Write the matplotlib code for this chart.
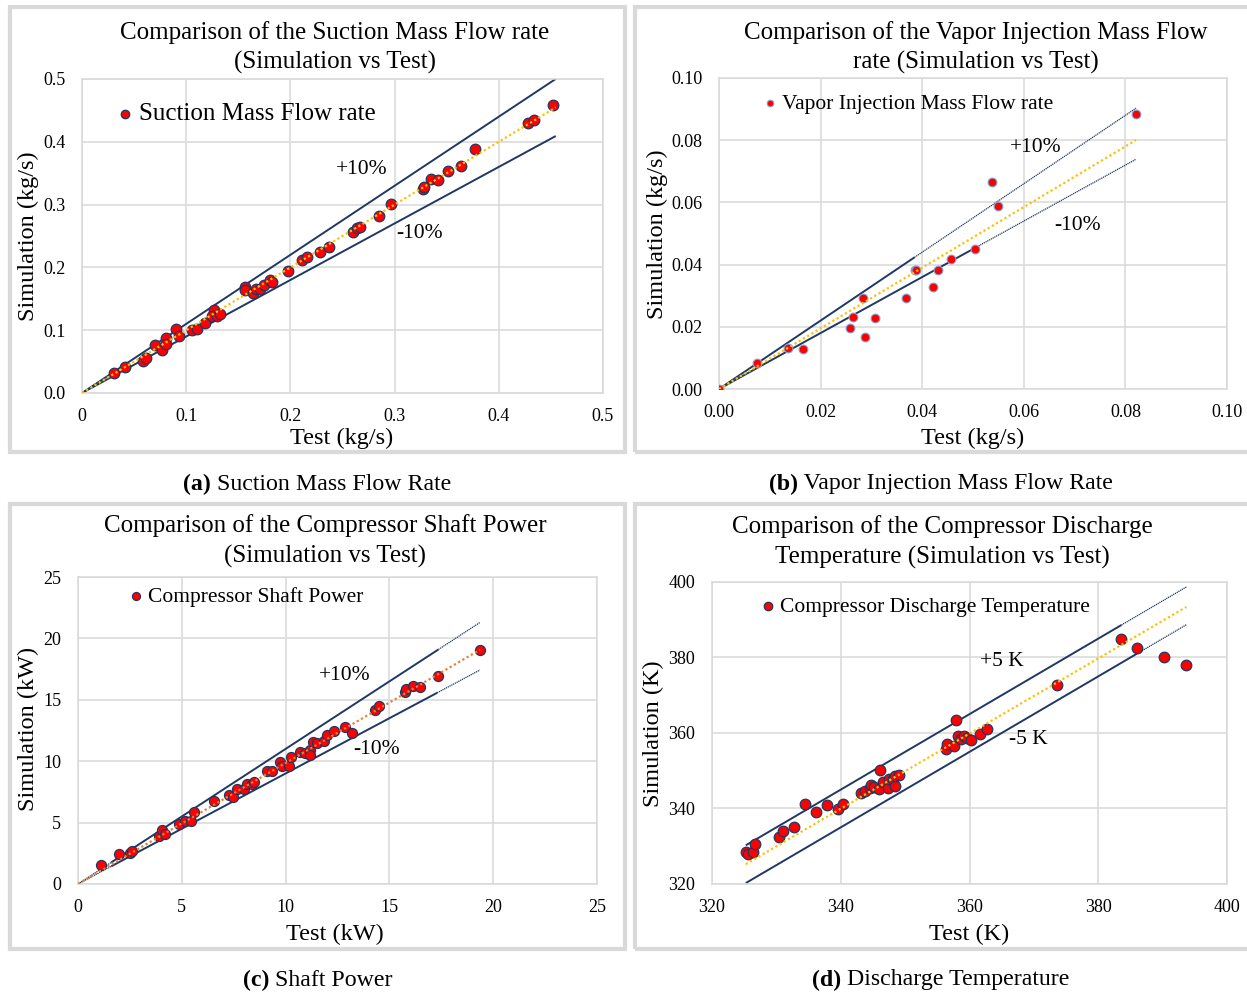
import numpy as np
import matplotlib
matplotlib.use("Agg")
import matplotlib.pyplot as plt

plt.rcParams['font.family'] = ['Liberation Serif', 'DejaVu Serif']

# ---------------- data ----------------
suction_test = [0.0304, 0.0413, 0.0588, 0.0615, 0.0704, 0.0763, 0.0806, 0.0810, 0.0902, 0.0935,
                0.1057, 0.1100, 0.1176, 0.1262, 0.1243, 0.1295, 0.1329, 0.1566, 0.1566, 0.1639,
                0.1669, 0.1712, 0.1748, 0.1805, 0.1825, 0.1973, 0.2108, 0.2158, 0.2287, 0.2366,
                0.2598, 0.2637, 0.2667, 0.2852, 0.2961, 0.3268, 0.3278, 0.3354, 0.3414, 0.3510,
                0.3639, 0.3774, 0.4280, 0.4342, 0.4524]
suction_sim = [0.0323, 0.0419, 0.0514, 0.0551, 0.0764, 0.0689, 0.0875, 0.0774, 0.1023, 0.0907,
               0.1007, 0.1023, 0.1119, 0.1320, 0.1225, 0.1225, 0.1257, 0.1691, 0.1638, 0.1591,
               0.1660, 0.1660, 0.1718, 0.1805, 0.1775, 0.1941, 0.2116, 0.2169, 0.2243, 0.2328,
               0.2556, 0.2625, 0.2651, 0.2816, 0.3006, 0.3256, 0.3282, 0.3410, 0.3388, 0.3531,
               0.3622, 0.3887, 0.4295, 0.4353, 0.4581]

vi_test = [0.0, 0.0074, 0.01365, 0.0165, 0.0257, 0.0263, 0.0284, 0.0288, 0.0308, 0.0369,
           0.0385, 0.0388, 0.0422, 0.0431, 0.0457, 0.0504, 0.0538, 0.0549, 0.0821]
vi_sim = [0.0, 0.00824, 0.01317, 0.01285, 0.0195, 0.0233, 0.0292, 0.0166, 0.0228, 0.0291,
          0.0384, 0.0383, 0.0327, 0.0384, 0.0419, 0.0450, 0.0665, 0.0589, 0.0885]

power_test = [1.10, 1.97, 2.51, 2.61, 3.91, 4.06, 4.20, 4.87, 5.15, 5.45, 5.60, 6.57, 7.26, 7.49,
              7.68, 7.98, 8.14, 8.36, 8.49, 9.08, 9.33, 9.75, 9.83, 10.17, 10.28, 10.67, 10.92,
              11.17, 11.17, 11.34, 11.49, 11.87, 12.01, 12.31, 12.88, 13.18, 14.31, 14.52, 15.75,
              15.80, 16.12, 16.47, 17.32, 19.36]
power_sim = [1.57, 2.46, 2.51, 2.70, 3.92, 4.41, 4.08, 4.86, 5.14, 5.16, 5.86, 6.78, 7.24, 7.05,
             7.76, 7.70, 8.16, 8.14, 8.30, 9.22, 9.24, 9.97, 9.59, 9.59, 10.35, 10.78, 10.70,
             10.92, 10.51, 11.59, 11.51, 11.68, 12.16, 12.46, 12.76, 12.30, 14.19, 14.49, 15.65,
             15.86, 16.16, 16.05, 16.97, 19.03]

temp_test = [325.25, 325.63, 326.32, 326.70, 330.40, 330.99, 332.81, 334.52, 336.18, 337.79,
             339.61, 340.36, 343.15, 343.69, 344.54, 344.65, 345.19, 345.94, 346.04, 346.53,
             347.28, 347.49, 348.14, 348.40, 348.46, 348.99, 356.28, 356.55, 357.62, 357.94,
             358.21, 358.75, 359.12, 359.66, 360.19, 361.69, 362.76, 373.64, 383.61, 385.97,
             390.15, 393.69]
temp_sim = [328.55, 327.94, 328.55, 330.58, 332.43, 333.93, 335.08, 341.25, 339.14, 340.81,
            339.93, 341.25, 344.07, 344.51, 345.31, 346.10, 345.75, 345.13, 350.25, 347.07,
            345.31, 347.69, 347.87, 345.93, 348.66, 348.92, 355.71, 357.04, 356.51, 363.47,
            359.15, 358.54, 359.24, 358.71, 358.10, 359.68, 361.09, 372.73, 384.99, 382.61,
            380.23, 377.94]

titles = [["Comparison of the Suction Mass Flow rate", "(Simulation vs Test)"],
          ["Comparison of the Vapor Injection Mass Flow", "rate (Simulation vs Test)"],
          ["Comparison of the Compressor Shaft Power", "(Simulation vs Test)"],
          ["Comparison of the Compressor Discharge", "Temperature (Simulation vs Test)"]]
legend_labels = ["Suction Mass Flow rate", "Vapor Injection Mass Flow rate",
                 "Compressor Shaft Power", "Compressor Discharge Temperature"]
xlabels = ["Test (kg/s)", "Test (kg/s)", "Test (kW)", "Test (K)"]
ylabels = ["Simulation (kg/s)", "Simulation (kg/s)", "Simulation (kW)", "Simulation (K)"]
caption_bold = ["(a)", "(b)", "(c)", "(d)"]
caption_text = ["Suction Mass Flow Rate", "Vapor Injection Mass Flow Rate",
                "Shaft Power", "Discharge Temperature"]
band_labels = [["+10%", "-10%"], ["+10%", "-10%"], ["+10%", "-10%"], ["+5 K", "-5 K"]]

ticks_a = [0, 0.1, 0.2, 0.3, 0.4, 0.5]
xticklabels_a = ["0", "0.1", "0.2", "0.3", "0.4", "0.5"]
yticklabels_a = ["0.0", "0.1", "0.2", "0.3", "0.4", "0.5"]
ticks_b = [0.0, 0.02, 0.04, 0.06, 0.08, 0.10]
ticklabels_b = ["0.00", "0.02", "0.04", "0.06", "0.08", "0.10"]
ticks_c = [0, 5, 10, 15, 20, 25]
ticks_d = [320, 340, 360, 380, 400]

# ---------------- styling ----------------
W, H = 1247, 993
NAVY = '#1F3864'
GOLD = '#FFC000'
ORANGE = '#ED7D31'
GRID = '#D9D9D9'
FRAME = '#D9D9D9'

fig = plt.figure(figsize=(W / 100, H / 100), dpi=100)


def fx(px):
    return px / W


def fy(py):
    return 1 - py / H


def make_axes(x0, x1, y0, y1):
    return fig.add_axes([fx(x0), fy(y1), (x1 - x0) / W, (y1 - y0) / H])


# panel frames
for (x0, y0, x1, y1) in [(10, 7, 625, 452), (635, 7, 1252, 452),
                         (10, 504, 625, 949), (635, 504, 1252, 949)]:
    fig.add_artist(plt.Rectangle((fx(x0), fy(y1)), (x1 - x0) / W, (y1 - y0) / H,
                                 transform=fig.transFigure, fill=False,
                                 edgecolor=FRAME, linewidth=3))


def style_axes(ax, xlim, ylim, xticks, yticks, xtl, ytl):
    ax.set_xlim(*xlim)
    ax.set_ylim(*ylim)
    ax.set_xticks(xticks)
    ax.set_yticks(yticks)
    ax.set_xticklabels(xtl)
    ax.set_yticklabels(ytl)
    ax.tick_params(length=0, labelsize=13, pad=11)
    ax.tick_params(axis='y', pad=12)
    ax.grid(True, color=GRID, linewidth=1.1)
    ax.set_axisbelow(True)
    for s in ax.spines.values():
        s.set_color(GRID)
        s.set_linewidth(1.1)


def band_lines(ax, x_start, x_end, solid_lo, solid_hi, factor_or_offset, mult=True):
    xs = np.array([x_start, solid_hi])
    xd = np.array([solid_hi, x_end])
    xa = np.array([0 if mult else x_start, x_start])
    f = (lambda x: x * factor_or_offset) if mult else (lambda x: x + factor_or_offset)
    ax.plot(xs, f(xs), color=NAVY, lw=1.4, zorder=2, solid_capstyle='butt')
    if solid_hi < x_end:
        ax.plot(xd, f(xd), color=NAVY, lw=0.9, ls=(0, (1, 0.6)), zorder=2)
    if mult and x_start > 0:
        ax.plot(xa, f(xa), color=NAVY, lw=0.9, ls=(0, (1, 0.6)), zorder=2)


def scatter(ax, x, y, label, size, edge, elw):
    ax.scatter(x, y, s=size, facecolor='#FF0000', edgecolor=edge, linewidths=elw,
               zorder=3, label=label)


def legend(ax, px, py, fs, mscale):
    ax.legend(loc='center left', bbox_to_anchor=(fx(px), fy(py)),
              bbox_transform=fig.transFigure, frameon=False, fontsize=fs,
              handlelength=0.5, handletextpad=0.3, borderpad=0, borderaxespad=0,
              markerscale=mscale, scatterpoints=1)


def ftext(px, py, s, fs, **kw):
    fig.text(fx(px), fy(py), s, fontsize=fs, ha='center', va='center', **kw)


# ---------------- (a) ----------------
ax = make_axes(82, 603, 79, 393)
style_axes(ax, (0, 0.5), (0, 0.5), ticks_a, ticks_a, xticklabels_a, yticklabels_a)
xa_end = max(suction_test) * 1.005
scatter(ax, suction_test, suction_sim, legend_labels[0], 58, NAVY, 0.9)
band_lines(ax, 0, xa_end, 0, xa_end, 1.1)
band_lines(ax, 0, xa_end, 0, xa_end, 0.9)
ax.plot([0, xa_end], [0, xa_end], color=GOLD, lw=1.6, ls=(0, (1, 1.2)), zorder=4)
legend(ax, 119, 114, 18, 0.8)

# ---------------- (b) ----------------
ax = make_axes(719, 1227, 78, 389)
style_axes(ax, (0, 0.10), (0, 0.10), ticks_b, ticks_b, ticklabels_b, ticklabels_b)
xb_end = max(vi_test)
scatter(ax, vi_test, vi_sim, legend_labels[1], 40, '#7FA7D9', 0.8)
band_lines(ax, 0, xb_end, 0, 0.0385, 1.1)
band_lines(ax, 0, xb_end, 0, 0.0504, 0.9)
ax.plot([0, xb_end], [0, xb_end * 0.975], color=GOLD, lw=1.6, ls=(0, (1, 1.2)), zorder=4)
legend(ax, 765, 104, 15.5, 0.75)

# ---------------- (c) ----------------
ax = make_axes(78, 597, 577, 884)
style_axes(ax, (0, 25), (0, 25), ticks_c, ticks_c, [str(t) for t in ticks_c],
           [str(t) for t in ticks_c])
xc_end = max(power_test)
scatter(ax, power_test, power_sim, legend_labels[2], 52, NAVY, 0.9)
band_lines(ax, 1.6, xc_end, 1.6, 17.36, 1.1)
band_lines(ax, 1.6, xc_end, 1.6, 17.3, 0.9)
ax.plot([0, xc_end], [0, xc_end * 0.985], color=ORANGE, lw=1.6, ls=(0, (1, 1.2)), zorder=4)
legend(ax, 131, 597, 15.5, 0.8)

# ---------------- (d) ----------------
ax = make_axes(712, 1227, 582, 884)
style_axes(ax, (320, 400), (320, 400), ticks_d, ticks_d, [str(t) for t in ticks_d],
           [str(t) for t in ticks_d])
xd0 = min(temp_test)
xd1 = max(temp_test)
scatter(ax, temp_test, temp_sim, legend_labels[3], 58, NAVY, 0.9)
band_lines(ax, xd0, xd1, xd0, 383.6, 5, mult=False)
band_lines(ax, xd0, xd1, xd0, 386.0, -5, mult=False)
ax.plot([xd0, xd1], [xd0, xd1 - 0.3], color=GOLD, lw=1.6, ls=(0, (1, 1.2)), zorder=4)
legend(ax, 763, 607, 15.5, 0.8)

# ---------------- titles ----------------
title_pos = [(335, 33, 62), (976, 33, 62), (325, 526, 556), (942, 527, 557)]
for (cx, y1, y2), t in zip(title_pos, titles):
    ftext(cx, y1, t[0], 18)
    ftext(cx, y2, t[1], 18)

# axis labels
xl_pos = [(342, 438), (973, 438), (335, 934), (969, 934)]
yl_pos = [(28, 236), (657, 234), (28, 729), (653, 734)]
for (px, py), s in zip(xl_pos, xlabels):
    ftext(px, py, s, 17.5)
for (px, py), s in zip(yl_pos, ylabels):
    ftext(px, py, s, 17.5, rotation=90)

# band annotations
band_pos = [[(362, 169), (420, 234)], [(1036, 148), (1078, 226)],
            [(345, 675), (377, 749)], [(1002, 662), (1028, 739)]]
for pos, labs in zip(band_pos, band_labels):
    for (px, py), s in zip(pos, labs):
        ftext(px, py, s, 15.5)

# captions: bold part + regular part, centred as a whole
cap_pos = [(317, 484), (941, 484), (318, 980), (941, 980)]
fig.canvas.draw()
renderer = fig.canvas.get_renderer()
for (cx, cy), b, t in zip(cap_pos, caption_bold, caption_text):
    tb = fig.text(0, fy(cy), b, fontsize=17.2, fontweight='bold', ha='left', va='center')
    tr = fig.text(0, fy(cy), " " + t, fontsize=17.2, ha='left', va='center')
    wb = tb.get_window_extent(renderer).width
    wr = tr.get_window_extent(renderer).width
    left = cx - (wb + wr) / 2
    tb.set_x(fx(left))
    tr.set_x(fx(left + wb))

fig.savefig("out.png", dpi=100)
